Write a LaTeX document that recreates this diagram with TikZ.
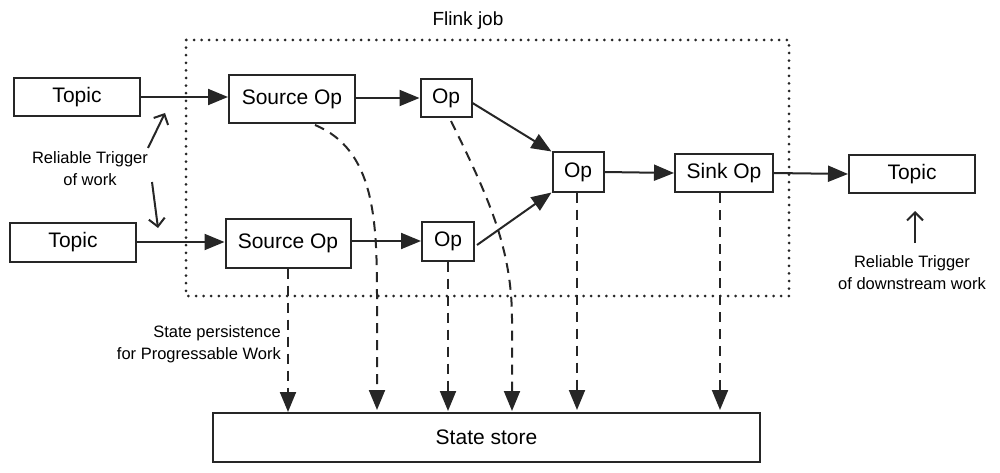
\documentclass[tikz,border=0pt]{standalone}
\usepackage{fontspec}
\setmainfont{Liberation Sans}
\usetikzlibrary{arrows.meta}
\begin{document}
\begin{tikzpicture}[x=1pt,y=-1pt,
  box/.style={draw=black!85,line width=2pt,inner sep=0pt,font=\fontsize{21}{24}\selectfont},
  lbl/.style={font=\fontsize{16.5}{22}\selectfont,align=center,inner sep=0pt},
  flow/.style={line width=2pt,draw=black!85,-{Triangle[length=20pt,width=16pt]}},
  persist/.style={line width=2pt,draw=black!85,dash pattern=on 10pt off 7pt,-{Triangle[length=20pt,width=16pt]}},
  note/.style={line width=2pt,draw=black!85,-{Straight Barb[length=8pt,width=16pt]}},
  jobframe/.style={line width=3pt,draw=black!85,dash pattern=on 0pt off 7.6pt,line cap=round}]
\useasboundingbox (0,0) rectangle (1000,473);
% frame
\draw[jobframe] (186,40) rectangle (789,296);
\node[lbl,font=\fontsize{19}{22}\selectfont] (job) at (468,21) {Flink job};
% boxes
\node[box,minimum width=126pt,minimum height=38pt] (t1) at (77,97) {Topic};
\node[box,minimum width=126pt,minimum height=39pt] (t2) at (73,242) {Topic};
\node[box,minimum width=126pt,minimum height=48pt] (s1) at (292,99) {Source Op};
\node[box,minimum width=125pt,minimum height=49pt] (s2) at (288,243) {Source Op};
\node[box,minimum width=51pt,minimum height=38pt] (o1) at (446,98) {Op};
\node[box,minimum width=52pt,minimum height=39pt] (o2) at (448,241) {Op};
\node[box,minimum width=51pt,minimum height=39pt] (o3) at (578,172) {Op};
\node[box,minimum width=98pt,minimum height=38pt] (sk) at (724,173) {Sink Op};
\node[box,minimum width=126pt,minimum height=38pt] (t3) at (912,174) {Topic};
\node[box,minimum width=547pt,minimum height=49pt] (st) at (486.5,437.5) {State store};
% labels
\node[lbl] (l1) at (90,169) {Reliable Trigger\\of work};
\node[lbl,align=right,anchor=east] (l2) at (281,344) {State persistence\\for Progressable Work};
\node[lbl] (l3) at (912,273) {Reliable Trigger\\of downstream work};
% flow arrows
\draw[flow] (t1.east) -- (s1.west |- t1.east);
\draw[flow] (t2.east) -- (s2.west |- t2.east);
\draw[flow] (s1.east |- o1.west) -- (o1.west);
\draw[flow] (s2.east |- o2.west) -- (o2.west);
\draw[flow] (o1.east) ++(0,5) coordinate (a1) (a1) -- (o3.north west);
\draw[flow] (o2.east) ++(2,4) coordinate (a2) (a2) -- (o3.south west);
\draw[flow] (o3.east) -- (sk.west);
\draw[flow] (sk.east) -- (t3.west);
% note arrows
\coordinate (n1s) at (148,148); \coordinate (n1e) at (165,113);
\coordinate (n2s) at (152,182); \coordinate (n2e) at (158,228);
\coordinate (n3s) at (915,243); \coordinate (n3e) at (915,211);
\draw[note] (n1s) -- (n1e);
\draw[note] (n2s) -- (n2e);
\draw[note] (n3s) -- (n3e);
% persistence arrows
\coordinate (p1) at (288,412);
\coordinate (p2) at (377,410);
\coordinate (p3) at (448,411);
\coordinate (p4) at (512,411);
\coordinate (p5) at (577,410);
\coordinate (p6) at (720,410);
\coordinate (c1) at (315,125);
\coordinate (c2) at (451,121);
\draw[persist] (s2.south) -- (p1);
\draw[persist] (c1) .. controls (375,150) and (377,220) .. (377,300) -- (p2);
\draw[persist] (o2.south) -- (p3);
\draw[persist] (c2) .. controls (490,200) and (512,250) .. (512,320) -- (p4);
\draw[persist] (o3.south -| p5) -- (p5);
\draw[persist] (sk.south -| p6) -- (p6);
\end{tikzpicture}
\end{document}
